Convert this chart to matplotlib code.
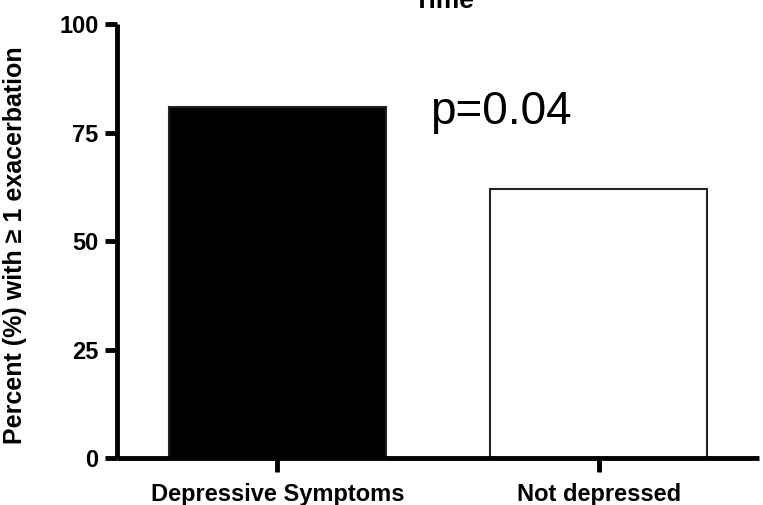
import matplotlib
matplotlib.use("Agg")
import matplotlib.pyplot as plt

categories = ["Depressive Symptoms", "Not depressed"]
percent_values = [81, 62]
bar_colors = ["black", "white"]
y_ticks = [0, 25, 50, 75, 100]

plt.rcParams["font.family"] = ["Liberation Sans", "DejaVu Sans"]

fig = plt.figure(figsize=(7.63, 5.05), dpi=100)
ax = fig.add_axes([0.153, 0.093, 0.842, 0.859])

x = range(len(categories))
ax.bar(x, percent_values, width=0.675, color=bar_colors, edgecolor="#222222", linewidth=1.5, zorder=2)

ax.set_xlim(-0.5, 1.5)
ax.set_ylim(0, 100)
ax.set_xticks(list(x))
ax.set_xticklabels(categories, fontsize=17, fontweight="bold")
ax.set_yticks(y_ticks)
ax.set_yticklabels([str(v) for v in y_ticks], fontsize=17, fontweight="bold")
ax.set_ylabel("Percent (%) with \u2265 1 exacerbation", fontsize=18, fontweight="bold")
ax.yaxis.set_label_coords(-0.140, 0.49)

for side in ("top", "right"):
    ax.spines[side].set_visible(False)
for side in ("left", "bottom"):
    ax.spines[side].set_linewidth(3.5)
    ax.spines[side].set_capstyle("butt")
ax.spines["left"].set_bounds(0, 100)
ax.tick_params(axis="y", length=9, width=3.5, pad=4)
ax.tick_params(axis="x", length=10, width=3.5, pad=8)

ax.text(0.475, 77, "p=0.04", fontsize=33, ha="left", va="baseline")

fig.text(0.582, 1 - 8 / 505, "Time", fontsize=19, fontweight="bold", ha="center", va="baseline")

fig.savefig("out.png", dpi=100)
